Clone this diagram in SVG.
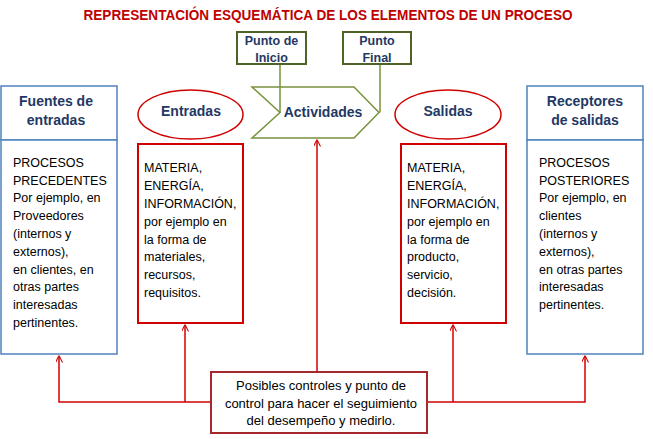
<svg xmlns="http://www.w3.org/2000/svg" width="653" height="439" viewBox="0 0 653 439">
<style>
.title{font-family:"Liberation Sans",Arial,sans-serif;font-weight:bold;font-size:14px;fill:#c00000;text-anchor:middle}
.hdr{font-family:"Liberation Sans",Arial,sans-serif;font-weight:bold;font-size:14px;fill:#1f3864;text-anchor:middle}
.pt{font-family:"Liberation Sans",Arial,sans-serif;font-weight:bold;font-size:12.5px;fill:#1f3864;text-anchor:middle}
.body{font-family:"Liberation Sans",Arial,sans-serif;font-size:12.5px;fill:#000}
.ctr{font-family:"Liberation Sans",Arial,sans-serif;font-size:13px;fill:#000;text-anchor:middle}
.blue{fill:#fff;stroke:#4f81bd;stroke-width:1.5}
.red{fill:#fff;stroke:#d00000;stroke-width:1.5}
.redbox{fill:#fff;stroke:#d00000;stroke-width:2}
.green{fill:#fff;stroke:#4f6228;stroke-width:2}
.chev{fill:#fff;stroke:#77933c;stroke-width:1.5}
.gl{fill:none;stroke:#77933c;stroke-width:1.5}
.rl{fill:none;stroke:#d00000;stroke-width:1.5}
</style>
<defs>
<marker id="ah" viewBox="0 0 10 10" refX="10" refY="5" markerWidth="7" markerHeight="7" orient="auto" markerUnits="userSpaceOnUse">
<path d="M0,0 L10,5 L0,10" fill="none" stroke="#d00000" stroke-width="1.5"/>
</marker>
</defs>
<text class="title" x="328" y="20" textLength="489" lengthAdjust="spacingAndGlyphs">REPRESENTACIÓN ESQUEMÁTICA DE LOS ELEMENTOS DE UN PROCESO</text>

<g id="actividades">
<polygon class="chev" points="252,87 354,87 379,112.5 354,138 252,138 280,112.5"/>
<text class="hdr" x="323" y="117">Actividades</text>
</g>

<g id="connectors">
<line class="gl" x1="280" y1="64" x2="280" y2="112.5"/>
<line class="gl" x1="380" y1="64" x2="380" y2="112.5"/>
<line class="rl" x1="317" y1="372" x2="317" y2="139.5" marker-end="url(#ah)"/>
<polyline class="rl" points="211,402 59,402 59,355.5" marker-end="url(#ah)"/>
<line class="rl" x1="185" y1="402" x2="185" y2="324.5" marker-end="url(#ah)"/>
<polyline class="rl" points="427,402 585,402 585,355.5" marker-end="url(#ah)"/>
<line class="rl" x1="453" y1="402" x2="453" y2="324.5" marker-end="url(#ah)"/>
</g>

<g id="punto-inicio">
<rect class="green" x="237" y="32" width="69" height="32"/>
<text class="pt" x="271.5" y="45">Punto de</text>
<text class="pt" x="271.5" y="62">Inicio</text>
</g>
<g id="punto-final">
<rect class="green" x="343" y="32" width="68" height="32"/>
<text class="pt" x="377" y="45">Punto</text>
<text class="pt" x="377" y="62">Final</text>
</g>

<g id="fuentes">
<rect class="blue" x="1" y="86" width="116" height="54"/>
<text class="hdr" x="56" y="106">Fuentes de</text>
<text class="hdr" x="56" y="125">entradas</text>
<rect class="blue" x="1" y="140" width="116" height="214"/>
<text class="body"><tspan x="13" y="166.7">PROCESOS</tspan><tspan x="13" y="184.5">PRECEDENTES</tspan><tspan x="13" y="202.3">Por ejemplo,  en</tspan><tspan x="13" y="220.1">Proveedores</tspan><tspan x="13" y="237.9">(internos y</tspan><tspan x="13" y="255.7">externos),</tspan><tspan x="13" y="273.5">en clientes, en</tspan><tspan x="13" y="291.3">otras partes</tspan><tspan x="13" y="309.1">interesadas</tspan><tspan x="13" y="326.9">pertinentes.</tspan></text>
</g>

<g id="entradas">
<ellipse class="red" cx="190.5" cy="114.5" rx="52.5" ry="24.5"/>
<text class="hdr" x="191" y="116">Entradas</text>
<rect class="redbox" x="138" y="144" width="105" height="179"/>
<text class="body"><tspan x="144" y="172.3">MATERIA,</tspan><tspan x="144" y="190.1">ENERGÍA,</tspan><tspan x="144" y="207.9">INFORMACIÓN,</tspan><tspan x="144" y="225.7">por ejemplo en</tspan><tspan x="144" y="243.5">la forma de</tspan><tspan x="144" y="261.3">materiales,</tspan><tspan x="144" y="279.1">recursos,</tspan><tspan x="144" y="296.9">requisitos.</tspan></text>
</g>

<g id="salidas">
<ellipse class="red" cx="448" cy="114.5" rx="53" ry="24.5"/>
<text class="hdr" x="448" y="116">Salidas</text>
<rect class="redbox" x="401" y="144" width="105" height="179"/>
<text class="body"><tspan x="407" y="172.3">MATERIA,</tspan><tspan x="407" y="190.1">ENERGÍA,</tspan><tspan x="407" y="207.9">INFORMACIÓN,</tspan><tspan x="407" y="225.7">por ejemplo en</tspan><tspan x="407" y="243.5">la forma de</tspan><tspan x="407" y="261.3">producto,</tspan><tspan x="407" y="279.1">servicio,</tspan><tspan x="407" y="296.9">decisión.</tspan></text>
</g>

<g id="receptores">
<rect class="blue" x="527" y="86" width="116" height="54"/>
<text class="hdr" x="585" y="106">Receptores</text>
<text class="hdr" x="585" y="125">de salidas</text>
<rect class="blue" x="527" y="140" width="116" height="214"/>
<text class="body"><tspan x="539" y="166.7">PROCESOS</tspan><tspan x="539" y="184.5">POSTERIORES</tspan><tspan x="539" y="202.3">Por ejemplo,  en</tspan><tspan x="539" y="220.1">clientes</tspan><tspan x="539" y="237.9">(internos y</tspan><tspan x="539" y="255.7">externos),</tspan><tspan x="539" y="273.5">en otras partes</tspan><tspan x="539" y="291.3">interesadas</tspan><tspan x="539" y="309.1">pertinentes.</tspan></text>
</g>

<g id="controles">
<rect x="211" y="372" width="216" height="61" fill="#fff" stroke="#a5282d" stroke-width="2"/>
<text class="ctr"><tspan x="321" y="390">Posibles controles y punto de</tspan><tspan x="321" y="407.7">control para hacer el seguimiento</tspan><tspan x="321" y="425.4">del desempeño y medirlo.</tspan></text>
</g>
</svg>
